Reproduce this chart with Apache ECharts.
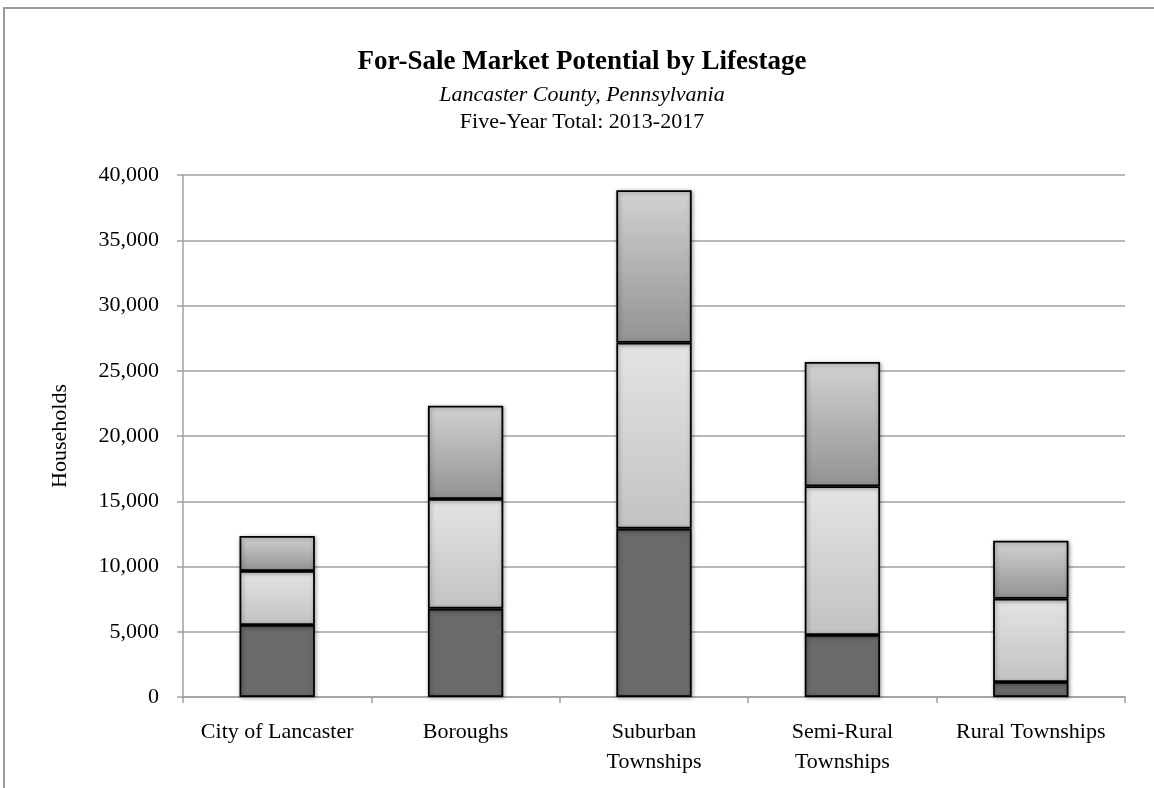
<!DOCTYPE html>
<html>
<head>
<meta charset="utf-8">
<script src="https://cdn.jsdelivr.net/npm/echarts@6/dist/echarts.min.js"></script>
<style>
html,body{margin:0;padding:0;background:#fff;}
#chart{width:1154px;height:788px;}
</style>
</head>
<body>
<div id="chart"></div>
<script>
const categories = ['City of Lancaster', 'Boroughs', 'Suburban\nTownships', 'Semi-Rural\nTownships', 'Rural Townships'];
const bottomSeries = [5520, 6770, 12900, 4750, 1150];
const middleSeries = [4140, 8400, 14250, 11400, 6380];
const topSeries = [2680, 7150, 11680, 9520, 4440];
const yTicks = { min: 0, max: 40000, interval: 5000 };

const FONT = '"Liberation Serif", "DejaVu Serif", serif';
const chart = echarts.init(document.getElementById('chart'));

const common = {
  type: 'bar',
  stack: 'total',
  barWidth: '40%',
  itemStyle: {
    borderColor: '#000',
    borderWidth: 1.8,
    shadowBlur: 4,
    shadowColor: 'rgba(0,0,0,0.35)',
    shadowOffsetX: 1,
    shadowOffsetY: 1
  }
};

const option = {
  backgroundColor: '#fff',
  animation: false,
  graphic: [{
    type: 'rect',
    shape: { x: 4, y: 8, width: 1170, height: 800 },
    style: { fill: 'none', stroke: '#9a9a9a', lineWidth: 2 },
    silent: true
  }],
  title: [
    { text: 'For-Sale Market Potential by Lifestage', left: 577, top: 44, textAlign: 'center',
      textStyle: { fontFamily: FONT, fontWeight: 'bold', fontSize: 27, color: '#000' } },
    { text: 'Lancaster County, Pennsylvania', left: 577, top: 79, textAlign: 'center',
      textStyle: { fontFamily: FONT, fontStyle: 'italic', fontWeight: 'normal', fontSize: 22, color: '#000' } },
    { text: 'Five-Year Total: 2013-2017', left: 577, top: 106, textAlign: 'center',
      textStyle: { fontFamily: FONT, fontWeight: 'normal', fontSize: 22, color: '#000' } }
  ],
  grid: { left: 183, right: 29, top: 175, bottom: 91, containLabel: false },
  xAxis: {
    type: 'category',
    data: categories,
    axisLine: { show: true, lineStyle: { color: '#a0a0a0', width: 1.5 } },
    axisTick: { show: true, alignWithLabel: false, length: 6, lineStyle: { color: '#a0a0a0', width: 1.5 } },
    axisLabel: { fontFamily: FONT, fontSize: 22, color: '#000', margin: 20, lineHeight: 30, interval: 0 }
  },
  yAxis: {
    type: 'value',
    min: yTicks.min, max: yTicks.max, interval: yTicks.interval,
    name: 'Households',
    nameLocation: 'middle',
    nameGap: 112,
    nameRotate: 90,
    nameTextStyle: { fontFamily: FONT, fontSize: 22, color: '#000' },
    axisLine: { show: true, lineStyle: { color: '#a0a0a0', width: 1.5 } },
    axisTick: { show: true, inside: false, length: 6, lineStyle: { color: '#a0a0a0', width: 1.5 } },
    splitLine: { show: true, lineStyle: { color: '#a0a0a0', width: 1.5 } },
    axisLabel: {
      fontFamily: FONT, fontSize: 22, color: '#000', margin: 24,
      formatter: v => v.toLocaleString('en-US')
    }
  },
  series: [
    Object.assign({}, common, {
      name: 'Bottom',
      data: bottomSeries,
      itemStyle: Object.assign({}, common.itemStyle, { color: '#6a6a6a' })
    }),
    Object.assign({}, common, {
      name: 'Middle',
      data: middleSeries,
      itemStyle: Object.assign({}, common.itemStyle, {
        color: new echarts.graphic.LinearGradient(0, 0, 0, 1, [
          { offset: 0, color: '#e4e4e4' }, { offset: 1, color: '#c2c2c2' }
        ])
      })
    }),
    Object.assign({}, common, {
      name: 'Top',
      data: topSeries,
      itemStyle: Object.assign({}, common.itemStyle, {
        color: new echarts.graphic.LinearGradient(0, 0, 0, 1, [
          { offset: 0, color: '#d2d2d2' }, { offset: 1, color: '#929292' }
        ])
      })
    })
  ]
};
chart.setOption(option);
</script>
</body>
</html>
